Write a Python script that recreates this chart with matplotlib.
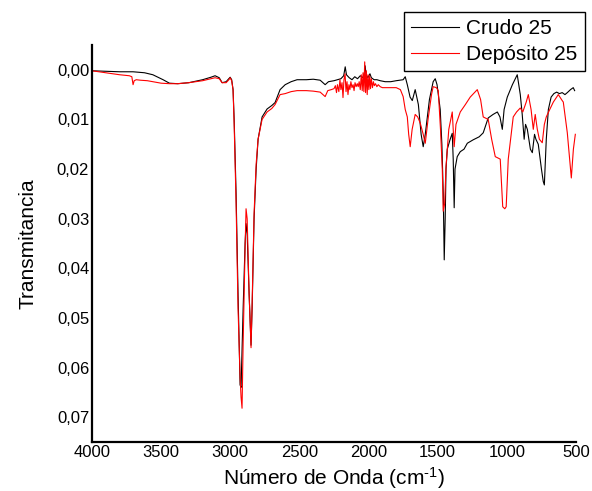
import matplotlib
matplotlib.use("Agg")
import matplotlib.pyplot as plt
from matplotlib.ticker import FuncFormatter, MultipleLocator

plt.rcParams['font.family'] = ['Liberation Sans', 'DejaVu Sans']
plt.rcParams['mathtext.fontset'] = 'custom'
plt.rcParams['mathtext.rm'] = 'Liberation Sans'
plt.rcParams['mathtext.it'] = 'Liberation Sans'

# Crudo 25 (wavenumber cm-1, transmitancia)
crudo_wn = [4000, 3900, 3800, 3703, 3620, 3560, 3486, 3440, 3380, 3300, 3200, 3140,
            3110, 3080, 3059, 3030, 3010, 3001, 2990, 2980, 2972, 2958, 2944, 2929,
            2922, 2907, 2893, 2886, 2878, 2864, 2850, 2842, 2828, 2813, 2799, 2770,
            2734, 2700, 2676, 2640, 2603, 2560, 2517, 2450, 2400, 2350, 2314, 2290,
            2250, 2200, 2180, 2169, 2160, 2140, 2120, 2100, 2080, 2060, 2040, 2030,
            2025, 2018, 2005, 1990, 1980, 1960, 1940, 1916, 1880, 1840, 1800, 1750,
            1735, 1720, 1700, 1684, 1663, 1640, 1620, 1605, 1590, 1560, 1533, 1518,
            1505, 1482, 1470, 1460, 1453, 1446, 1440, 1431, 1410, 1395, 1388, 1381,
            1375, 1359, 1337, 1310, 1286, 1243, 1200, 1171, 1135, 1100, 1069, 1050,
            1033, 1020, 997, 960, 925, 903, 889, 875, 865, 852, 830, 816,
            800, 790, 773, 750, 737, 729, 715, 700, 680, 660, 640, 620,
            600, 580, 563, 540, 520, 510]
crudo_t = [0.0002, 0.0003, 0.0004, 0.0004, 0.0006, 0.0010, 0.0020, 0.0027, 0.0028, 0.0026, 0.0020, 0.0015,
           0.0012, 0.0016, 0.0026, 0.0024, 0.0018, 0.0015, 0.0020, 0.0040, 0.0100, 0.0250, 0.0450, 0.0635,
           0.0640, 0.0480, 0.0350, 0.0310, 0.0330, 0.0450, 0.0555, 0.0480, 0.0300, 0.0200, 0.0140, 0.0095,
           0.0079, 0.0072, 0.0066, 0.0040, 0.0030, 0.0024, 0.0020, 0.0020, 0.0019, 0.0021, 0.0030, 0.0024,
           0.0022, 0.0018, 0.0012, -0.0006, 0.0010, 0.0016, 0.0020, 0.0014, 0.0018, 0.0012, 0.0016, 0.0006,
           -0.0008, 0.0010, 0.0016, 0.0008, 0.0016, 0.0020, 0.0020, 0.0022, 0.0024, 0.0024, 0.0022, 0.0020,
           0.0014, 0.0030, 0.0055, 0.0062, 0.0040, 0.0070, 0.0130, 0.0155, 0.0130, 0.0060, 0.0024, 0.0018,
           0.0030, 0.0080, 0.0150, 0.0250, 0.0383, 0.0300, 0.0200, 0.0160, 0.0140, 0.0128, 0.0180, 0.0278,
           0.0200, 0.0175, 0.0165, 0.0160, 0.0148, 0.0141, 0.0135, 0.0127, 0.0097, 0.0090, 0.0085, 0.0095,
           0.0120, 0.0080, 0.0055, 0.0030, 0.0010, 0.0050, 0.0090, 0.0140, 0.0110, 0.0120, 0.0160, 0.0167,
           0.0130, 0.0140, 0.0150, 0.0200, 0.0225, 0.0232, 0.0140, 0.0080, 0.0055, 0.0048, 0.0045, 0.0048,
           0.0046, 0.0050, 0.0046, 0.0040, 0.0036, 0.0042]

# Deposito 25
depo_wn = [4000, 3900, 3800, 3730, 3712, 3703, 3695, 3680, 3650, 3600, 3560, 3500,
           3440, 3380, 3300, 3200, 3140, 3110, 3080, 3059, 3030, 3010, 3001, 2990,
           2980, 2972, 2958, 2944, 2929, 2922, 2915, 2907, 2893, 2886, 2878, 2864,
           2850, 2842, 2828, 2813, 2799, 2770, 2734, 2700, 2676, 2640, 2603, 2560,
           2517, 2450, 2400, 2350, 2314, 2295, 2270, 2250, 2240, 2232, 2225, 2215,
           2207, 2200, 2192, 2185, 2178, 2170, 2163, 2156, 2149, 2142, 2135, 2128,
           2120, 2112, 2105, 2098, 2090, 2082, 2075, 2068, 2060, 2053, 2046, 2040,
           2034, 2028, 2022, 2016, 2010, 2004, 1998, 1992, 1986, 1980, 1972, 1965,
           1958, 1950, 1940, 1930, 1916, 1900, 1880, 1850, 1800, 1770, 1750, 1735,
           1720, 1710, 1699, 1685, 1663, 1645, 1627, 1605, 1590, 1570, 1545, 1533,
           1510, 1496, 1480, 1467, 1460, 1450, 1440, 1420, 1395, 1381, 1368, 1337,
           1300, 1265, 1214, 1190, 1171, 1150, 1135, 1110, 1084, 1048, 1030, 1015,
           1005, 990, 954, 930, 903, 885, 860, 845, 825, 809, 795, 780,
           765, 744, 729, 715, 690, 664, 628, 600, 592, 563, 540, 534,
           519, 505]
depo_t = [0.0002, 0.0006, 0.0010, 0.0012, 0.0014, 0.0030, 0.0022, 0.0020, 0.0021, 0.0022, 0.0024, 0.0027,
          0.0028, 0.0028, 0.0026, 0.0022, 0.0018, 0.0016, 0.0018, 0.0026, 0.0026, 0.0020, 0.0016, 0.0022,
          0.0040, 0.0110, 0.0270, 0.0480, 0.0620, 0.0660, 0.0682, 0.0550, 0.0360, 0.0280, 0.0300, 0.0450,
          0.0560, 0.0470, 0.0290, 0.0190, 0.0140, 0.0100, 0.0085, 0.0078, 0.0070, 0.0050, 0.0048, 0.0044,
          0.0042, 0.0042, 0.0043, 0.0045, 0.0054, 0.0042, 0.0040, 0.0038, 0.0032, 0.0046, 0.0030, 0.0044,
          0.0020, 0.0040, 0.0026, 0.0056, 0.0020, 0.0008, 0.0044, 0.0024, 0.0050, 0.0030, 0.0040, 0.0024,
          0.0036, 0.0030, 0.0042, 0.0026, 0.0034, 0.0028, 0.0034, 0.0024, 0.0040, 0.0010, 0.0042, 0.0006,
          0.0044, -0.0016, 0.0046, 0.0002, 0.0050, 0.0010, 0.0040, 0.0012, 0.0038, 0.0018, 0.0036, 0.0024,
          0.0032, 0.0028, 0.0034, 0.0030, 0.0034, 0.0036, 0.0036, 0.0036, 0.0036, 0.0040, 0.0054, 0.0080,
          0.0095, 0.0130, 0.0155, 0.0120, 0.0090, 0.0095, 0.0107, 0.0130, 0.0148, 0.0100, 0.0050, 0.0034,
          0.0036, 0.0042, 0.0120, 0.0200, 0.0285, 0.0270, 0.0195, 0.0120, 0.0085, 0.0155, 0.0110, 0.0085,
          0.0070, 0.0055, 0.0040, 0.0060, 0.0095, 0.0098, 0.0100, 0.0140, 0.0175, 0.0180, 0.0276, 0.0280,
          0.0276, 0.0180, 0.0095, 0.0085, 0.0077, 0.0085, 0.0065, 0.0050, 0.0080, 0.0120, 0.0090, 0.0120,
          0.0140, 0.0147, 0.0110, 0.0095, 0.0080, 0.0065, 0.0050, 0.0062, 0.0065, 0.0127, 0.0200, 0.0218,
          0.0160, 0.0130]

fig = plt.figure(figsize=(5.92, 4.91), dpi=100)
ax = fig.add_axes([0.1554, 0.0998, 0.8176, 0.8086])

ax.plot(crudo_wn, crudo_t, color='black', lw=0.8, label='Crudo 25')
ax.plot(depo_wn, depo_t, color='red', lw=0.8, label='Depósito 25')

ax.set_xlim(4000, 500)
ax.set_ylim(0.075, -0.005)
ax.xaxis.set_major_locator(MultipleLocator(500))
ax.yaxis.set_major_locator(MultipleLocator(0.01))
ax.yaxis.set_major_formatter(FuncFormatter(lambda v, p: f"{v:.2f}".replace('.', ',')))
ax.tick_params(length=0, labelsize=12, pad=2)

for s in ['top', 'right']:
    ax.spines[s].set_visible(False)
for s in ['left', 'bottom']:
    ax.spines[s].set_linewidth(1.6)

ax.set_xlabel(r'Número de Onda (cm$^{\text{-1}}$)', fontsize=15, labelpad=4)
ax.set_ylabel('Transmitancia', fontsize=15, labelpad=14)

leg = ax.legend(loc='upper right', bbox_to_anchor=(585 / 592, 1 - 12 / 491),
                bbox_transform=fig.transFigure, fontsize=15, frameon=True,
                fancybox=False, framealpha=1, edgecolor='black', borderaxespad=0,
                handlelength=2.3, handletextpad=0.35, labelspacing=0.32, borderpad=0.35)
leg.get_frame().set_linewidth(1.0)

plt.savefig('out.png', dpi=100)
